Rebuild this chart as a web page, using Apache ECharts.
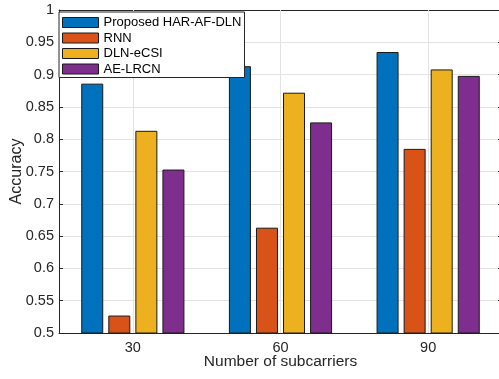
<!DOCTYPE html>
<html>
<head>
<meta charset="utf-8">
<script src="https://cdn.jsdelivr.net/npm/echarts@6/dist/echarts.min.js"></script>
<style>
html,body{margin:0;padding:0;background:#fff;}
#chart{width:499px;height:379px;}
</style>
</head>
<body>
<div id="chart"></div>
<script>
const categories = ['30', '60', '90'];
const seriesNames = ['Proposed HAR-AF-DLN', 'RNN', 'DLN-eCSI', 'AE-LRCN'];
const proposed = [0.886, 0.913, 0.935];
const rnn = [0.527, 0.663, 0.785];
const dlnECSI = [0.813, 0.872, 0.908];
const aeLRCN = [0.753, 0.826, 0.898];
const colors = ['#0072BD', '#D95319', '#EDB120', '#7E2F8E'];
const yMin = 0.5, yMax = 1, yStep = 0.05;

const FONT = '"Liberation Sans", Arial, Helvetica, sans-serif';
const TXT = '#262626';
const GRID = '#e3e3e3';

const chart = echarts.init(document.getElementById('chart'));
const values = [proposed, rnn, dlnECSI, aeLRCN];

const barSeries = values.map((v, i) => ({
  name: seriesNames[i],
  type: 'bar',
  data: v,
  barWidth: 22,
  barGap: '23%',
  z: 2,
  itemStyle: { color: colors[i], borderColor: '#1a1a1a', borderWidth: 1 }
}));

const option = {
  animation: false,
  backgroundColor: '#fff',
  textStyle: { fontFamily: FONT },
  grid: { left: 59, top: 10, width: 443, height: 323, containLabel: false, outerBoundsMode: 'none' },
  legend: {
    data: seriesNames,
    orient: 'vertical',
    left: 59, top: 12,
    icon: 'rect',
    itemWidth: 36, itemHeight: 10, itemGap: 2.5,
    padding: [4, 3, 2, 3],
    backgroundColor: '#fff',
    borderColor: TXT, borderWidth: 1,
    textStyle: { fontSize: 13, color: '#000', fontFamily: FONT },
    itemStyle: { borderColor: '#1a1a1a', borderWidth: 1 },
    z: 10
  },
  xAxis: [
    {
      type: 'category', data: categories, position: 'bottom',
      name: 'Number of subcarriers', nameLocation: 'middle', nameGap: 21, nameMoveOverlap: false,
      nameTextStyle: { fontSize: 15.5, color: TXT, fontFamily: FONT },
      axisLine: { show: true, lineStyle: { color: TXT, width: 1 } },
      axisTick: { show: true, inside: true, alignWithLabel: true, length: 4, lineStyle: { color: TXT } },
      axisLabel: { fontSize: 14.5, color: TXT, margin: 7, fontFamily: FONT },
      splitLine: { show: false }
    },
    {
      type: 'category', data: categories, position: 'top',
      axisLine: { show: true, lineStyle: { color: TXT, width: 1 } },
      axisTick: { show: true, inside: true, alignWithLabel: true, length: 4, lineStyle: { color: TXT } },
      axisLabel: { show: false },
      splitLine: { show: false }
    }
  ],
  yAxis: [
    {
      type: 'value', min: yMin, max: yMax, interval: yStep, position: 'left',
      name: 'Accuracy', nameLocation: 'middle', nameGap: 34, nameRotate: 90, nameMoveOverlap: false,
      nameTextStyle: { fontSize: 16, color: TXT, fontFamily: FONT },
      axisLine: { show: true, lineStyle: { color: TXT, width: 1 } },
      axisTick: { show: true, inside: true, length: 4, lineStyle: { color: TXT } },
      axisLabel: { fontSize: 14.5, color: TXT, margin: 5, fontFamily: FONT,
        formatter: v => String(Math.round(v * 100) / 100) },
      splitLine: { show: true, lineStyle: { color: GRID, width: 1 } }
    },
    {
      type: 'value', min: yMin, max: yMax, interval: yStep, position: 'right',
      axisLine: { show: true, lineStyle: { color: TXT, width: 1 } },
      axisTick: { show: true, inside: true, length: 4, lineStyle: { color: TXT } },
      axisLabel: { show: false },
      splitLine: { show: false }
    }
  ],
  series: [
    {
      type: 'line', name: '_grid', data: categories.map(() => null), z: 0,
      silent: true, symbol: 'none',
      markLine: {
        silent: true, symbol: 'none', label: { show: false },
        lineStyle: { color: GRID, type: 'solid', width: 1 },
        data: categories.map(c => ({ xAxis: c }))
      }
    },
    ...barSeries
  ]
};
chart.setOption(option);
</script>
</body>
</html>
